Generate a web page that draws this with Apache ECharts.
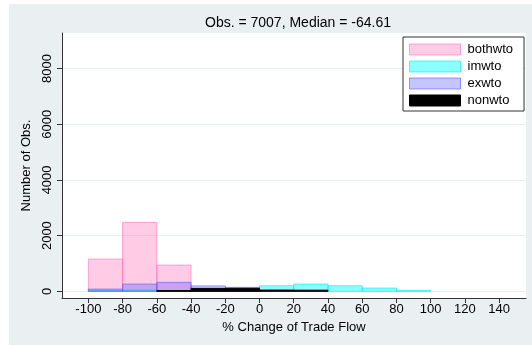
<!DOCTYPE html>
<html><head><meta charset="utf-8">
<script src="https://cdn.jsdelivr.net/npm/echarts@6/dist/echarts.min.js"></script>
<style>html,body{margin:0;padding:0;background:#fff}#c{width:532px;height:345px}</style>
</head><body><div id="c"></div>
<script>
const binStarts = [-100, -80, -60, -40, -20, 0, 20, 40, 60, 80];
const binWidth = 20;
const bothwto = [1160, 2478, 944, 100, 50, 0, 0, 0, 0, 0];
const imwto   = [30, 45, 10, 15, 10, 200, 262, 200, 118, 35];
const exwto   = [80, 262, 322, 195, 143, 0, 0, 0, 0, 0];
const nonwto  = [0, 0, 25, 105, 108, 45, 40, 0, 0, 0];
const xTicks = [-100, -80, -60, -40, -20, 0, 20, 40, 60, 80, 100, 120, 140];
const yTicks = [0, 2000, 4000, 6000, 8000];
const titleText = 'Obs. = 7007, Median = -64.61';

const FONT = '"Liberation Sans", Arial, sans-serif';
const styles = {
  bothwto: {fill: 'rgba(255,105,180,0.35)', stroke: 'rgba(255,105,180,0.55)'},
  imwto:   {fill: 'rgba(0,255,255,0.45)',   stroke: 'rgba(0,235,235,0.6)'},
  exwto:   {fill: 'rgba(90,90,255,0.35)',   stroke: 'rgba(90,90,255,0.6)'},
  nonwto:  {fill: '#000000',                stroke: '#000000'}
};
const seriesData = {bothwto, imwto, exwto, nonwto};

function mkSeries(name) {
  const vals = seriesData[name];
  const st = styles[name];
  return {
    name, type: 'custom',
    data: binStarts.map((b, i) => [b, b + binWidth, vals[i]]),
    itemStyle: {color: st.fill, borderColor: st.stroke},
    renderItem: function (params, api) {
      const v = api.value(2);
      if (!v) return null;
      const p0 = api.coord([api.value(0), 0]);
      const p1 = api.coord([api.value(1), v]);
      return {
        type: 'rect',
        shape: {x: p0[0], y: p1[1], width: p1[0] - p0[0], height: p0[1] - p1[1]},
        style: {fill: st.fill, stroke: st.stroke, lineWidth: 1}
      };
    },
    encode: {x: [0, 1], y: 2}
  };
}

const names = ['bothwto', 'imwto', 'exwto', 'nonwto'];
const chart = echarts.init(document.getElementById('c'), null, {renderer: 'canvas'});
chart.setOption({
  animation: false,
  backgroundColor: '#ffffff',
  graphic: [{type: 'rect', z: -10, silent: true, shape: {x: 9, y: 4, width: 523, height: 341}, style: {fill: '#EAF0F2'}},
            {type: 'rect', z: -9, silent: true, shape: {x: 62, y: 33, width: 464, height: 265}, style: {fill: '#ffffff'}}],
  title: {text: titleText, left: 293, top: 11, textAlign: 'center',
    textStyle: {fontFamily: FONT, fontSize: 14, fontWeight: 'normal', color: '#000'}},
  legend: {
    orient: 'vertical', left: 403, top: 37,
    padding: [6, 11, 4, 6], itemGap: 4, itemWidth: 51, itemHeight: 11,
    borderColor: '#333', borderWidth: 1, backgroundColor: '#fff', borderRadius: 0,
    textStyle: {fontFamily: FONT, fontSize: 13, color: '#000', padding: [0, 0, 0, 2]},
    data: names.map(n => ({name: n, icon: 'rect',
      itemStyle: {color: styles[n].fill, borderColor: styles[n].stroke, borderWidth: 1}}))
  },
  grid: {left: 62, right: 6, top: 33, bottom: 47},
  xAxis: {
    type: 'value', min: -115.4, max: 155.7,
    name: '% Change of Trade Flow', nameLocation: 'middle', nameGap: 20,
    nameTextStyle: {fontFamily: FONT, fontSize: 13, color: '#000'},
    axisLine: {show: true, onZero: false, lineStyle: {color: '#333', width: 1}},
    axisTick: {show: true, length: 5, customValues: xTicks, lineStyle: {color: '#333'}},
    axisLabel: {customValues: xTicks, formatter: v => String(v), fontFamily: FONT, fontSize: 13, color: '#000', margin: 5},
    splitLine: {show: false}
  },
  yAxis: {
    type: 'value', min: -240, max: 9275,
    name: 'Number of Obs.', nameLocation: 'middle', nameGap: 25, nameRotate: 90,
    nameTextStyle: {fontFamily: FONT, fontSize: 13, color: '#000'},
    axisLine: {show: true, onZero: false, lineStyle: {color: '#333', width: 1}},
    axisTick: {show: true, length: 5, customValues: yTicks, lineStyle: {color: '#333'}},
    axisLabel: {customValues: yTicks, formatter: v => String(v), rotate: 90, fontFamily: FONT, fontSize: 13, color: '#000', margin: 8},
    splitLine: {show: true, lineStyle: {color: '#E6EEF0', width: 1}}
  },
  series: names.map(mkSeries)
});
</script></body></html>
